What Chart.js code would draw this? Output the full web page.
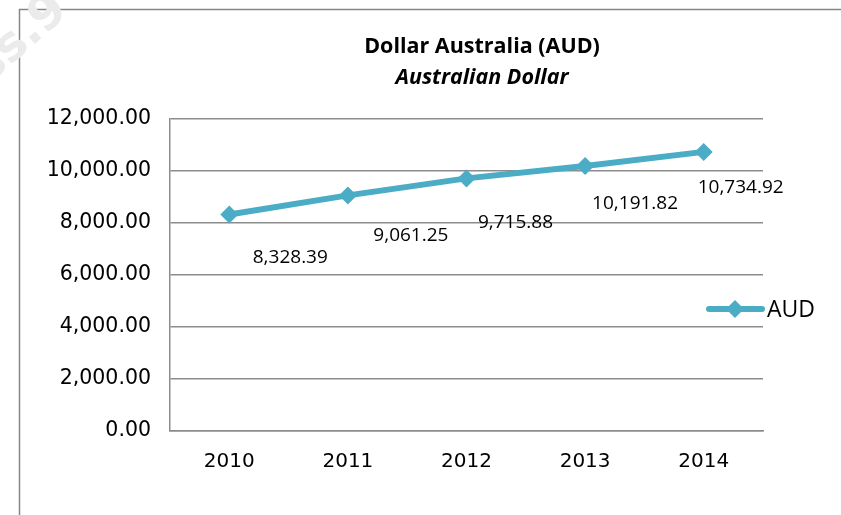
<!DOCTYPE html>
<html>
<head>
<meta charset="utf-8">
<script src="https://cdn.jsdelivr.net/npm/chart.js@4"></script>
<style>
  html, body { margin: 0; padding: 0; background: #fff; }
  #wrap { width: 841px; height: 515px; position: relative; }
</style>
</head>
<body>
<div id="wrap"><canvas id="audChart"></canvas></div>
<script>
const years = ['2010', '2011', '2012', '2013', '2014'];
const audValues = [8328.39, 9061.25, 9715.88, 10191.82, 10734.92];
const yTicks = [0, 2000, 4000, 6000, 8000, 10000, 12000];
const chartTitle = 'Dollar Australia (AUD)';
const chartSubtitle = 'Australian Dollar';
const seriesName = 'AUD';

const lineColor = '#4BACC6';
const gridColor = '#8c8c8c';
// label nudges (px) - labels were dragged around in the original
const labelShift = [[61, 43], [63, 40], [49, 44], [50, 38], [37, 36]];

const fmt = v => v.toLocaleString('en-US', { minimumFractionDigits: 2, maximumFractionDigits: 2 });

const decorPlugin = {
    id: 'decor',
    beforeDraw(chart) {
        const ctx = chart.ctx;
        ctx.save();
        // outer frame
        ctx.strokeStyle = '#868686';
        ctx.lineWidth = 1.5;
        ctx.strokeRect(19.5, 9.5, 900, 600);
        // faint watermark in the corner
        ctx.translate(22, 55);
        ctx.rotate(-0.72);
        ctx.fillStyle = '#ebebeb';
        ctx.font = 'bold 48px "DejaVu Sans"';
        ctx.fillText('ss.9', -45, 0);
        ctx.restore();
    },
    afterDraw(chart) {
        const ctx = chart.ctx;
        ctx.save();
        ctx.fillStyle = '#000';
        ctx.textAlign = 'center';
        ctx.textBaseline = 'middle';
        ctx.font = 'bold 21.5px "Open Sans"';
        ctx.fillText(chartTitle, 482, 47);
        ctx.font = 'italic bold 21.5px "Open Sans"';
        ctx.fillText(chartSubtitle, 482, 78);

        // data labels
        const meta = chart.getDatasetMeta(0);
        ctx.font = '19px "Open Sans"';
        meta.data.forEach((pt, i) => {
            ctx.fillText(fmt(audValues[i]), pt.x + labelShift[i][0], pt.y + labelShift[i][1]);
        });

        // legend
        const ly = 309;
        ctx.strokeStyle = lineColor;
        ctx.lineWidth = 6;
        ctx.lineCap = 'round';
        ctx.beginPath();
        ctx.moveTo(709, ly);
        ctx.lineTo(762, ly);
        ctx.stroke();
        ctx.fillStyle = lineColor;
        ctx.beginPath();
        ctx.moveTo(735, ly - 9);
        ctx.lineTo(744, ly);
        ctx.lineTo(735, ly + 9);
        ctx.lineTo(726, ly);
        ctx.closePath();
        ctx.fill();
        ctx.fillStyle = '#000';
        ctx.textAlign = 'left';
        ctx.font = '23px "Open Sans"';
        ctx.fillText(seriesName, 767, ly + 1);
        ctx.restore();
    }
};

new Chart(document.getElementById('audChart'), {
    type: 'line',
    data: {
        labels: years,
        datasets: [{
            label: seriesName,
            data: audValues,
            borderColor: lineColor,
            backgroundColor: lineColor,
            borderWidth: 6,
            pointStyle: 'rectRot',
            pointRadius: 9,
            pointHoverRadius: 9,
            pointBorderWidth: 0,
            tension: 0
        }]
    },
    options: {
        responsive: true,
        maintainAspectRatio: false,
        animation: false,
        layout: { padding: { left: 0, right: 78, top: 119, bottom: 0 } },
        plugins: {
            legend: { display: false },
            title: { display: false },
            tooltip: { enabled: false }
        },
        scales: {
            x: {
                offset: true,
                grid: { display: false, drawTicks: false },
                border: { display: true, color: gridColor, width: 1.5 },
                ticks: { color: '#000', padding: 19, font: { family: 'DejaVu Sans', size: 20 } },
                afterFit(scale) { scale.height = 84; }
            },
            y: {
                min: 0,
                max: 12000,
                afterBuildTicks(scale) { scale.ticks = yTicks.map(v => ({ value: v })); },
                grid: { color: gridColor, lineWidth: 1.5, drawTicks: false },
                border: { display: true, color: gridColor, width: 1.5 },
                ticks: {
                    color: '#000',
                    padding: 19,
                    font: { family: 'DejaVu Sans', size: 20.5 },
                    callback: v => fmt(v)
                },
                afterFit(scale) { scale.width = 170; }
            }
        }
    },
    plugins: [decorPlugin]
});
</script>
</body>
</html>
